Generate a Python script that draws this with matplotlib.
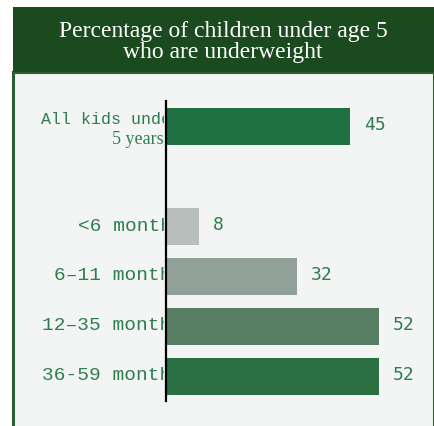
import matplotlib
matplotlib.use("Agg")
import matplotlib.pyplot as plt
from matplotlib.patches import Rectangle

# Underweight prevalence by age group (%)
groups = ["All kids under 5 years", "<6 months", "6\u201311 months", "12\u201335 months", "36-59 months"]
values = [45, 8, 32, 52, 52]
positions = [0, 2, 3, 4, 5]
bar_colors = ["#1e7040", "#b8bebc", "#91a098", "#577e63", "#2b7043"]

title = "Percentage of children under age 5\nwho are underweight"

W, H = 435, 426
fig = plt.figure(figsize=(W / 100, H / 100), dpi=100)
fig.patch.set_facecolor("white")

def px(x0, y0, x1, y1):
    # pixel box (top-left origin) -> figure fraction rect
    return (x0 / W, 1 - y1 / H, (x1 - x0) / W, (y1 - y0) / H)

# panel + header
l, b, w, h = px(13, 72, 434, 430)
fig.patches.append(Rectangle((l, b), w, h, transform=fig.transFigure,
                             facecolor="#f3f5f4", edgecolor="#2c5e33", lw=2.2, zorder=-2))
l, b, w, h = px(13, 7, 434, 72)
fig.patches.append(Rectangle((l, b), w, h, transform=fig.transFigure,
                             facecolor="#1b4a1f", edgecolor="none", zorder=-1))
fig.text(223 / W, 1 - 42 / H, title, ha="center", va="center", color="white",
         family="Liberation Serif", fontsize=17, linespacing=0.95)

ax = fig.add_axes(px(166, 101, 412, 401))
ax.set_facecolor("none")
ax.barh(positions, values, height=0.74, color=bar_colors)
ax.set_xlim(0, 60)
ax.set_ylim(5.5, -0.5)
for s in ["top", "right", "bottom"]:
    ax.spines[s].set_visible(False)
ax.spines["left"].set_linewidth(1.6)
ax.spines["left"].set_color("black")
ax.set_xticks([])
ax.set_yticks([])

txt_green = "#2f7d50"
for p, v in zip(positions, values):
    ax.annotate(str(v), (v, p), xytext=(10, 1), textcoords="offset points",
                ha="left", va="center", color=txt_green,
                family="DejaVu Sans Mono", fontsize=13)

# category labels, cut off at the axis line
clip = Rectangle((0, 0), 164 / W, 1, transform=fig.transFigure, visible=False)
fig.patches.append(clip)
for p, g in zip(positions[1:], groups[1:]):
    t = ax.annotate(g, (0, p), xytext=(12.5, 0), textcoords="offset points",
                    ha="right", va="center", color=txt_green,
                    family="Liberation Mono", fontsize=14, annotation_clip=False)
    t.set_clip_path(clip)

t = ax.annotate("All kids under", (0, positions[0]), xytext=(-90, 5), textcoords="offset points",
                ha="left", va="center", color=txt_green,
                family="Liberation Mono", fontsize=12)
t.set_clip_path(clip)
ax.annotate("5 years", (0, positions[0]), xytext=(-2, -10), textcoords="offset points",
            ha="right", va="center", color=txt_green,
            family="Liberation Serif", fontsize=13)

fig.savefig("out.png", dpi=100)
